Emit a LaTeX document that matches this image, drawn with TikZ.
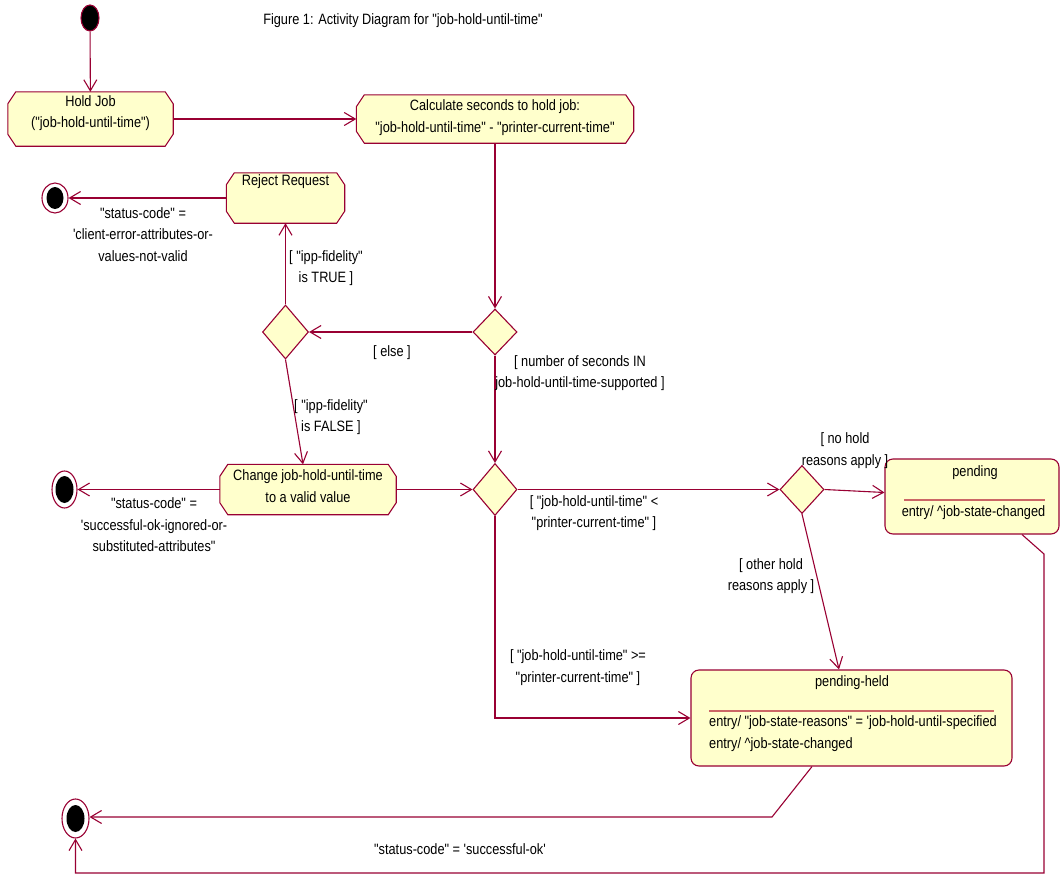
\documentclass[tikz,border=0pt]{standalone}
\usepackage{fontspec}
\newfontfamily\dfont[FakeStretch=0.85]{Liberation Sans}
\usetikzlibrary{arrows.meta,shapes.geometric,calc}
\definecolor{lc}{RGB}{153,0,51}
\definecolor{fc}{RGB}{255,255,204}
\definecolor{sc}{RGB}{204,102,102}
\newcommand\actpoly[1]{\path[draw=lc,fill=fc,line width=1.1pt]
 ([xshift=8pt]#1.north west) -- ([xshift=-8pt]#1.north east) -- ([yshift=-12pt]#1.north east)
 -- ([yshift=12pt]#1.south east) -- ([xshift=-8pt]#1.south east) -- ([xshift=8pt]#1.south west)
 -- ([yshift=12pt]#1.south west) -- ([yshift=-12pt]#1.north west) -- cycle;}
\begin{document}
\begin{tikzpicture}[x=1pt,y=-1pt,
 every node/.style={font=\dfont\fontsize{15}{21.5}\selectfont},
 wire/.style={draw=lc,line width=1.1pt},
 arr/.style={wire,-{Straight Barb[length=11pt,width=13pt,line width=1.1pt]}},
 txt/.style={align=center,inner sep=0pt},
 actarea/.style={rectangle,inner sep=0pt},
 dec/.style={diamond,draw=lc,fill=fc,line width=1.1pt,inner sep=0pt},
 statebox/.style={rectangle,rounded corners=8pt,draw=lc,fill=fc,line width=1.1pt,inner sep=0pt},
 sepline/.style={draw=sc,line width=1.1pt},
 fin/.style={ellipse,draw=lc,fill=white,line width=1.1pt,inner sep=0pt},
 finin/.style={ellipse,fill=black,inner sep=0pt}
]
\useasboundingbox[fill=white] (0,0) rectangle (1060,875);

% title
\node[txt] (title) at (403,21) {Figure 1: Activity Diagram for "job-hold-until-time"};

% start
\node[ellipse,draw=lc,fill=black,line width=1.1pt,inner sep=0pt,minimum width=18pt,minimum height=26pt] (start) at (90,18) {};

% activities
\node[actarea,minimum width=165pt,minimum height=54pt] (hold) at (90.5,119) {};
\actpoly{hold}
\node[txt] (holdT) at (90.5,113) {Hold Job\\("job-hold-until-time")};

\node[actarea,minimum width=277pt,minimum height=48pt] (calc) at (495,119) {};
\actpoly{calc}
\node[txt] (calcT) at (495,117.5) {Calculate seconds to hold job:\\"job-hold-until-time" - "printer-current-time"};

\node[actarea,minimum width=118pt,minimum height=50pt] (reject) at (285.5,198) {};
\actpoly{reject}
\node[txt] (rejectT) at (285.5,182) {Reject Request};

\node[actarea,minimum width=176pt,minimum height=50pt] (change) at (308,489.5) {};
\actpoly{change}
\node[txt] (changeT) at (308,486) {Change job-hold-until-time\\to a valid value};

% decisions
\node[dec,minimum width=44pt,minimum height=46pt] (d1) at (495,332) {};
\node[dec,minimum width=46pt,minimum height=54pt] (d2) at (285.5,332) {};
\node[dec,minimum width=44pt,minimum height=52pt] (d3) at (495,489.5) {};
\node[dec,minimum width=44pt,minimum height=48pt] (d4) at (802,489.5) {};

% states
\node[statebox,minimum width=174pt,minimum height=75pt] (pending) at (972,496.5) {};
\node[txt] (pendingT) at (975,473) {pending};
\draw[sepline] (904,500) -- (1045,500);
\node[txt] (pendingE) at (973.5,513) {entry/ \textasciicircum job-state-changed};

\node[statebox,minimum width=321pt,minimum height=96pt] (held) at (851.5,718) {};
\node[txt] (heldT) at (852,683) {pending-held};
\draw[sepline] (709,711) -- (994,711);
\node[txt,anchor=west] (heldE1) at (709,723) {entry/ "job-state-reasons" = 'job-hold-until-specified};
\node[txt,anchor=west] (heldE2) at (709,745) {entry/ \textasciicircum job-state-changed};

% finals
\node[fin,minimum width=26pt,minimum height=30pt] (f1) at (55,198) {};
\node[finin,minimum width=17pt,minimum height=22pt] (f1i) at (f1) {};
\node[fin,minimum width=25pt,minimum height=37pt] (f2) at (64.5,489.5) {};
\node[finin,minimum width=18pt,minimum height=27pt] (f2i) at (f2) {};
\node[fin,minimum width=27pt,minimum height=39pt] (f3) at (75.5,818.5) {};
\node[finin,minimum width=18pt,minimum height=27pt] (f3i) at (f3) {};

% connectors
\draw[arr] (start) -- (hold);
\draw[arr] (hold) -- (calc);
\draw[arr] (calc) -- (d1);
\draw[arr] (d1) -- (d2);
\draw[arr] (d2) -- (reject);
\draw[arr] (reject) -- (f1);
\draw[arr] (d2.south) -- ([xshift=-5pt]change.north);
\draw[arr] (change) -- (f2);
\draw[arr] (change) -- (d3);
\draw[arr] (d1) -- (d3);
\draw[arr] (d3) -- (d4);
\draw[arr] (d4.east) -- ([yshift=4pt]pending.west);
\draw[arr] (d4.south) -- ([xshift=-12.5pt]held.north);
\draw[arr] (d3.south) |- (held.west);
\coordinate (c1) at (1044,554);
\coordinate (c2) at (1044,873);
\draw[arr] ([xshift=50pt]pending.south) -- (c1) -- (c2) -| (f3.south);
\coordinate (c3) at (772,817);
\draw[arr] ([xshift=-39.5pt]held.south) -- (c3) -- (c3 -| f3.east);

% labels
\node[txt] (lElse) at (392,353) {[ else ]};
\node[txt] (lTrue) at (326,268) {[ "ipp-fidelity"\\is TRUE ]};
\node[txt] (lFalse) at (331,417) {[ "ipp-fidelity"\\is FALSE ]};
\node[txt] (lF1) at (143,234.5) {"status-code" =\\'client-error-attributes-or-\\values-not-valid};
\node[txt] (lF2) at (154,525) {"status-code" =\\'successful-ok-ignored-or-\\substituted-attributes"};
\node[txt] (lNum) at (580,373) {[ number of seconds IN\\job-hold-until-time-supported ]};
\node[txt] (lLess) at (594,513) {[ "job-hold-until-time" <\\"printer-current-time" ]};
\node[txt] (lNo) at (845,450.5) {[ no hold\\reasons apply ]};
\node[txt] (lOther) at (771,576) {[ other hold\\reasons apply ]};
\node[txt] (lGe) at (578,667.5) {[ "job-hold-until-time" >=\\"printer-current-time" ]};
\node[txt] (lOk) at (460,849) {"status-code" = 'successful-ok'};
\end{tikzpicture}
\end{document}
